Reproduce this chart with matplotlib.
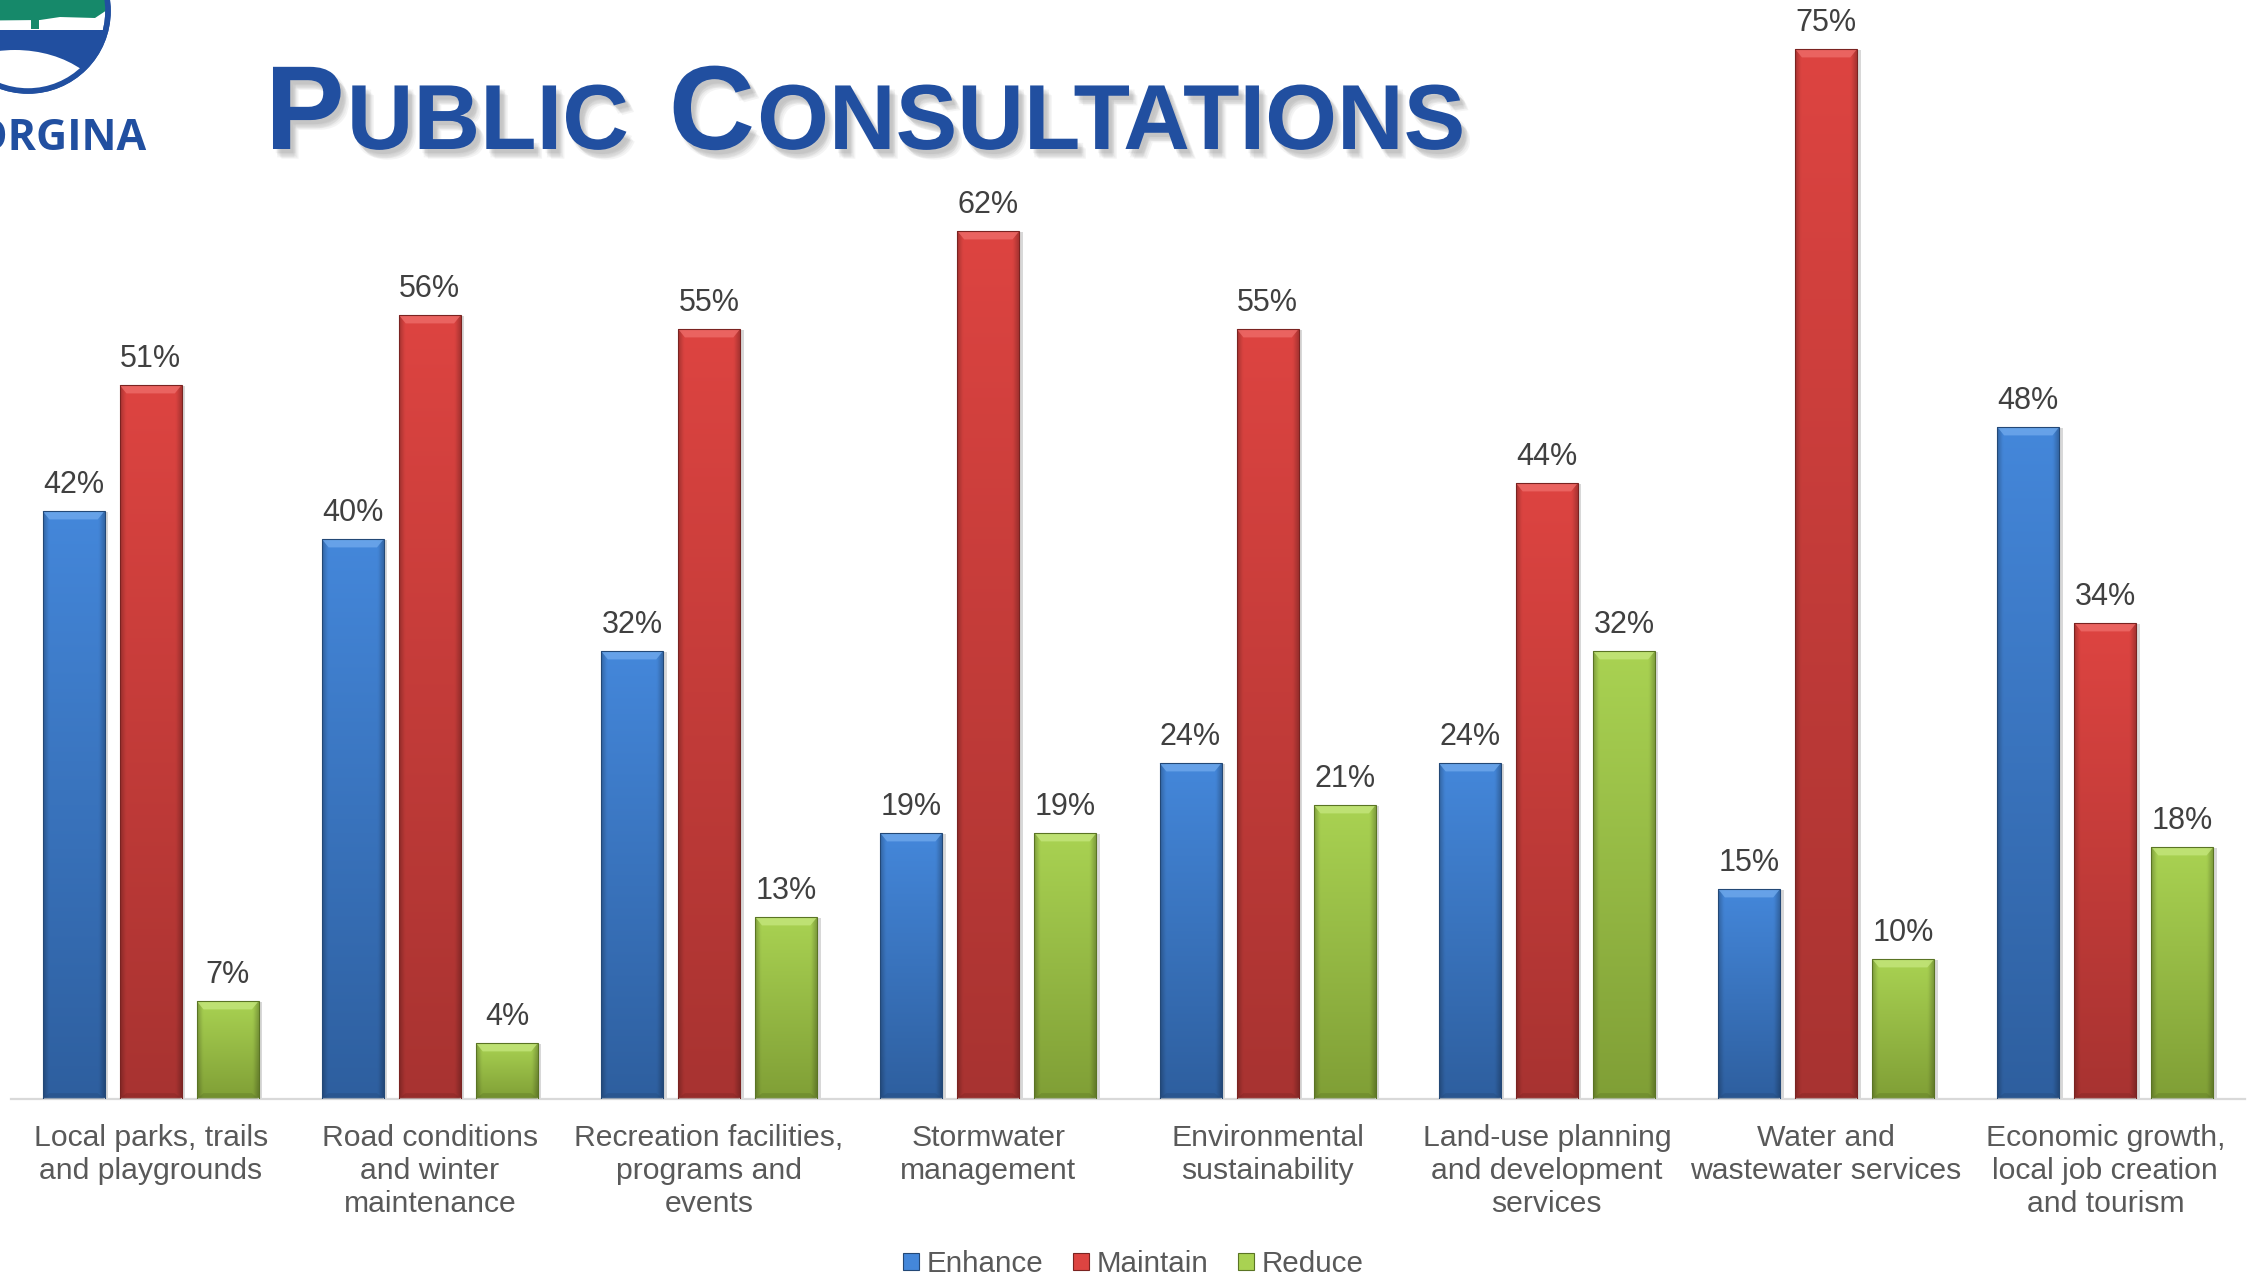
import numpy as np
import matplotlib.pyplot as plt
import matplotlib.colors as mcolors
import matplotlib.patheffects as pe
from matplotlib.patches import Patch, Polygon, Circle, Ellipse, Rectangle

plt.rcParams['font.family'] = ['Liberation Sans', 'DejaVu Sans']

categories = [
    "Local parks, trails\nand playgrounds",
    "Road conditions\nand winter\nmaintenance",
    "Recreation facilities,\nprograms and\nevents",
    "Stormwater\nmanagement",
    "Environmental\nsustainability",
    "Land-use planning\nand development\nservices",
    "Water and\nwastewater services",
    "Economic growth,\nlocal job creation\nand tourism",
]
series_names = ["Enhance", "Maintain", "Reduce"]
enhance = [42, 40, 32, 19, 24, 24, 15, 48]
maintain = [51, 56, 55, 62, 55, 44, 75, 34]
reduce_ = [7, 4, 13, 19, 21, 32, 10, 18]

# top, bottom, edge, bevel highlight
palette = {
    "Enhance": ("#4487DA", "#2E5F9F", "#234876", "#6FA9EC"),
    "Maintain": ("#DD4441", "#A83331", "#7A2321", "#EE6C69"),
    "Reduce": ("#A9D252", "#809F36", "#5A7424", "#C4E67C"),
}

TITLE_BLUE = "#214FA0"
LOGO_GREEN = "#16896A"
W, H = 2262, 1275

fig = plt.figure(figsize=(W / 100, H / 100), dpi=100)
ax = fig.add_axes([11 / W, 176 / H, (2245 - 11) / W, 1099 / H])

x = np.arange(len(categories))
width = 0.222
step = 0.276
values = [enhance, maintain, reduce_]


def shade_bar(rect, top, bottom, edge, bevel):
    bx, by = rect.get_x(), rect.get_y()
    bw, bh = rect.get_width(), rect.get_height()
    top = np.array(mcolors.to_rgb(top))
    bottom = np.array(mcolors.to_rgb(bottom))
    t = np.linspace(0, 1, 80)[:, None, None]
    img = np.repeat((1 - t) * top + t * bottom, 40, axis=1)
    u = np.linspace(0, 1, 40)
    side = 1 - 0.22 * np.clip(1 - np.minimum(u, 1 - u) / 0.09, 0, 1)
    img = np.clip(img * side[None, :, None], 0, 1)
    ax.imshow(img, extent=(bx, bx + bw, by, by + bh), aspect='auto',
              interpolation='bilinear', zorder=2)
    # chamfered highlight along the top, darker one along the bottom
    dx, dy = bw * 0.11, min(0.6, bh * 0.3)
    ax.add_patch(Polygon([(bx, by + bh), (bx + bw, by + bh),
                          (bx + bw - dx, by + bh - dy), (bx + dx, by + bh - dy)],
                         closed=True, facecolor=bevel, edgecolor='none',
                         alpha=0.8, zorder=3))
    ax.add_patch(Polygon([(bx, by), (bx + bw, by),
                          (bx + bw - dx, by + dy * 0.7), (bx + dx, by + dy * 0.7)],
                         closed=True, facecolor=edge, edgecolor='none',
                         alpha=0.35, zorder=3))
    ax.add_patch(Rectangle((bx, by), bw, bh, facecolor='none', edgecolor=edge,
                           linewidth=0.8, zorder=4))


for i, (name, vals) in enumerate(zip(series_names, values)):
    top, bottom, edge, bevel = palette[name]
    bars = ax.bar(x + (i - 1) * step, vals, width, color=bottom, zorder=1,
                  path_effects=[pe.SimplePatchShadow(offset=(2.5, -1), shadow_rgbFace='#7F7F7F', alpha=0.3)])
    for rect, v in zip(bars, vals):
        shade_bar(rect, top, bottom, edge, bevel)
        ax.annotate(f"{v}%", (rect.get_x() + rect.get_width() / 2, v),
                    xytext=(0, 13), textcoords='offset points',
                    ha='center', va='baseline', fontsize=22, color='#404040',
                    annotation_clip=False)

ax.set_xlim(-0.5, len(categories) - 0.5)
ax.set_ylim(0, 1099 / 14)
ax.set_xticks(x)
ax.set_xticklabels(categories, fontsize=21.7, color='#595959', linespacing=1.22)
ax.tick_params(axis='x', length=0, pad=18)
ax.set_yticks([])
for s in ['top', 'left', 'right']:
    ax.spines[s].set_visible(False)
ax.spines['bottom'].set_color('#D9D9D9')
ax.spines['bottom'].set_linewidth(1.6)
ax.patch.set_alpha(0)

handles = [Patch(facecolor=palette[n][0], edgecolor=palette[n][2], linewidth=0.8)
           for n in series_names]
leg = fig.legend(handles, series_names, loc='center', bbox_to_anchor=(0.501, 11 / H),
                 ncol=3, frameon=False, fontsize=21.3, handlelength=0.55,
                 handleheight=0.55, handletextpad=0.25, columnspacing=1.0)
for t in leg.get_texts():
    t.set_color('#595959')

# overlay in pixel coordinates for the logo and the heading
ov = fig.add_axes([0, 0, 1, 1], zorder=5)
ov.set_xlim(0, W)
ov.set_ylim(H, 0)
ov.axis('off')
ov.patch.set_alpha(0)

ring = Circle((28, 11), 80, facecolor='white', edgecolor=TITLE_BLUE, linewidth=4, zorder=1)
ov.add_patch(ring)
inner = [
    Rectangle((-60, 30), 200, 80, facecolor=TITLE_BLUE, edgecolor='none', zorder=2),
    Ellipse((15, 118), 190, 136, facecolor='white', edgecolor='none', zorder=3),
    Polygon([(-60, -10), (120, -10), (110, 8), (95, 18), (60, 17), (40, 20),
             (-60, 21)], closed=True, facecolor=LOGO_GREEN, edgecolor='none', zorder=2),
    Rectangle((31, 15), 8, 14, facecolor=LOGO_GREEN, edgecolor='none', zorder=2),
]
for p in inner:
    ov.add_patch(p)
    p.set_clip_path(ring)
ov.add_patch(Circle((28, 11), 80, facecolor='none', edgecolor=TITLE_BLUE, linewidth=4, zorder=4))
ov.text(147, 150, "GEORGINA", ha='right', va='baseline', fontsize=31,
        fontweight='bold', family=['Open Sans', 'DejaVu Sans'], color=TITLE_BLUE)

# heading in small caps, built piece by piece; stacked faint shadows give a soft edge
renderer = fig.canvas.get_renderer()
shadow = [pe.SimplePatchShadow(offset=off, shadow_rgbFace='#8C8C8C', alpha=0.09)
          for off in [(2, -3), (3, -4), (4, -5), (5, -6), (6, -7), (4, -3), (3, -6)]]
shadow.append(pe.Normal())
tx = 265
for piece, size, gap in [("P", 86, 2), ("UBLIC", 66.5, 40), ("C", 86, 2), ("ONSULTATIONS", 66.5, 0)]:
    t = ov.text(tx, 149, piece, fontsize=size, fontweight='bold', color=TITLE_BLUE,
                ha='left', va='baseline', path_effects=shadow)
    tx += t.get_window_extent(renderer).width + gap

fig.savefig("out.png", dpi=100)
